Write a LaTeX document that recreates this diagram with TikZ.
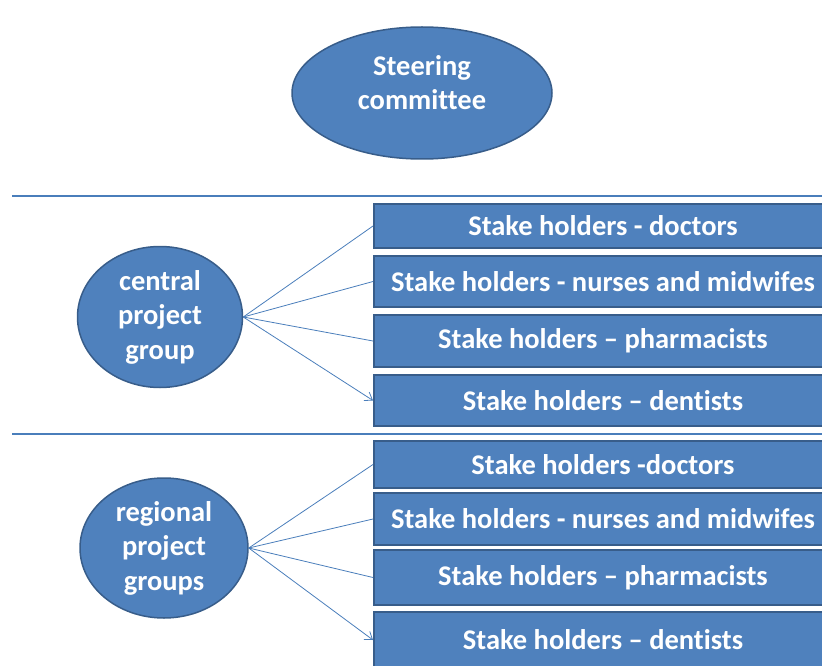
\documentclass[tikz,border=0pt]{standalone}
\usepackage{fontspec}
\setmainfont{Carlito}[Ligatures=NoCommon]
\usepackage{tikz}
\usetikzlibrary{shapes.geometric,arrows,arrows.meta,positioning}
\definecolor{boxblue}{HTML}{4F81BD}
\definecolor{edgeblue}{HTML}{385D8A}
\definecolor{lineblue}{HTML}{4A7EBB}

\tikzset{
  group/.style={ellipse,draw=edgeblue,line width=1.5pt,fill=boxblue,inner sep=0pt,
    text=white,font=\fontsize{28.5}{34.5}\selectfont\bfseries,align=center},
  holder/.style={rectangle,draw=edgeblue,line width=2pt,fill=boxblue,inner sep=0pt,
    minimum width=458pt,text=white,font=\fontsize{28.5}{30}\selectfont\bfseries},
  link/.style={lineblue,line width=0.8pt},
  tip/.style={-{Straight Barb[length=7pt,width=10pt]}},
  divider/.style={lineblue,line width=1.6pt}
}

\begin{document}
\begin{tikzpicture}[x=1pt,y=-1pt]
  \useasboundingbox (0,0) rectangle (822,666);

  % Steering committee
  \node[group,minimum width=260pt,minimum height=132pt,text depth=21pt] (steer) at (422,93) {Steering\\committee};

  % Dividers
  \coordinate (d1a) at (12,196);
  \coordinate (d1b) at (822,196);
  \coordinate (d2a) at (12,434);
  \coordinate (d2b) at (822,434);
  \draw[divider] (d1a) -- (d1b);
  \draw[divider] (d2a) -- (d2b);

  % Central project group
  \node[group,minimum width=165pt,minimum height=141pt] (central) at (160,317) {central\\project\\group};
  \node[holder,minimum height=44pt] (c1) at (603,226) {Stake holders - doctors};
  \node[holder,minimum height=51pt] (c2) at (603,281.5) {Stake holders - nurses and midwifes};
  \node[holder,minimum height=52pt] (c3) at (603,341) {Stake holders -- pharmacists};
  \node[holder,minimum height=51pt] (c4) at (603,400.5) {Stake holders -- dentists};
  \draw[link] (central.east) -- (c1.west);
  \draw[link] (central.east) -- (c2.west);
  \draw[link] (central.east) -- (c3.west);
  \draw[link,tip] (central.east) -- (c4.west);

  % Regional project groups
  \node[group,minimum width=168pt,minimum height=140pt] (regional) at (164,548) {regional\\project\\groups};
  \node[holder,minimum height=47pt] (r1) at (603,464.5) {Stake holders -doctors};
  \node[holder,minimum height=52pt] (r2) at (603,519) {Stake holders - nurses and midwifes};
  \node[holder,minimum height=55pt] (r3) at (603,577.5) {Stake holders -- pharmacists};
  \node[holder,minimum height=56pt] (r4) at (603,640) {Stake holders -- dentists};
  \draw[link] (regional.east) -- (r1.west);
  \draw[link] (regional.east) -- (r2.west);
  \draw[link] (regional.east) -- (r3.west);
  \draw[link,tip] (regional.east) -- (r4.west);
\end{tikzpicture}
\end{document}
